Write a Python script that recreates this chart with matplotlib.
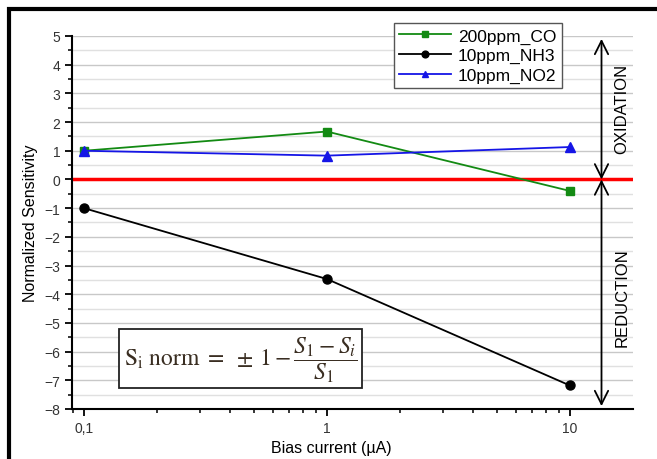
import numpy as np
import matplotlib
matplotlib.use('Agg')
import matplotlib.pyplot as plt
from matplotlib.patches import Rectangle
from matplotlib.ticker import FixedLocator, MultipleLocator, LogLocator, NullFormatter

# data
bias_current = [0.1, 1, 10]
co_200ppm = [1.0, 1.67, -0.4]
nh3_10ppm = [-1.0, -3.47, -7.18]
no2_10ppm = [1.0, 0.83, 1.13]
x_tick_vals = [0.1, 1, 10]
x_tick_labels = ['0,1', '1', '10']

plt.rcParams['font.family'] = ['Liberation Sans', 'DejaVu Sans']
plt.rcParams['mathtext.fontset'] = 'stix'

fig = plt.figure(figsize=(6.57, 4.6), dpi=100)
ax = fig.add_axes([0.1096, 0.1087, 0.8539, 0.8109])

# frame round the figure (only top and left show in the original)
fig.patches.append(Rectangle((9/657, -0.1), 1.2, 1 - 10/460 + 0.1, transform=fig.transFigure,
                             fill=False, edgecolor='black', linewidth=3, zorder=10))

ax.set_xscale('log')
ax.set_xlim(0.0893, 18.2)
ax.set_ylim(-8, 5)

# grid at every half unit
ax.yaxis.set_major_locator(MultipleLocator(1))
ax.yaxis.set_minor_locator(MultipleLocator(0.5))
ax.grid(True, which='major', axis='y', color='#c8c8c8', linewidth=1.0)
ax.grid(True, which='minor', axis='y', color='#e0e0e0', linewidth=1.0)
ax.set_axisbelow(True)

ax.axhline(0, color='#ff0000', linewidth=2.5, zorder=2)

ax.plot(bias_current, co_200ppm, color='#138a13', marker='s', markersize=5.5, linewidth=1.3,
        label='200ppm_CO', zorder=3)
ax.plot(bias_current, nh3_10ppm, color='black', marker='o', markersize=6.5, linewidth=1.3,
        label='10ppm_NH3', zorder=3)
ax.plot(bias_current, no2_10ppm, color='#1515e6', marker='^', markersize=6.5, linewidth=1.3,
        label='10ppm_NO2', zorder=3)

ax.xaxis.set_major_locator(FixedLocator(x_tick_vals))
ax.set_xticklabels(x_tick_labels)
ax.xaxis.set_minor_locator(LogLocator(base=10, subs=np.arange(2, 10)))
ax.xaxis.set_minor_formatter(NullFormatter())

for side in ['top', 'right']:
    ax.spines[side].set_visible(False)
for side in ['left', 'bottom']:
    ax.spines[side].set_linewidth(1.5)

ax.tick_params(which='major', direction='out', length=5, width=1.3, labelsize=10, labelcolor='#333333')
ax.tick_params(which='minor', direction='out', length=3, width=1.1)

ax.set_ylabel('Normalized Sensitivity', fontsize=11.5)
ax.set_xlabel('Bias current (µA)', fontsize=11.5)
ax.xaxis.set_label_coords(0.462, -0.082)
ax.yaxis.set_label_coords(-0.06, 0.5)

leg = ax.legend(loc='upper right', bbox_to_anchor=(0.888, 1.058), fontsize=12.5,
                frameon=True, fancybox=False, edgecolor='#555555', framealpha=1,
                handlelength=3.0, borderpad=0.3, labelspacing=0.25, handletextpad=0.4,
                markerscale=0.75)
leg.get_frame().set_linewidth(1.0)

# oxidation / reduction arrows
arrow_x = 13.5
ax.annotate('', xy=(arrow_x, 4.9), xytext=(arrow_x, 0.0),
            arrowprops=dict(arrowstyle='<->', color='black', lw=1.3, mutation_scale=24,
                            shrinkA=0, shrinkB=0), annotation_clip=False)
ax.annotate('', xy=(arrow_x, 0.0), xytext=(arrow_x, -7.9),
            arrowprops=dict(arrowstyle='<->', color='black', lw=1.3, mutation_scale=24,
                            shrinkA=0, shrinkB=0), annotation_clip=False)
ax.text(16.4, 2.5, 'OXIDATION', rotation=90, ha='center', va='center', fontsize=12)
ax.text(16.4, -4.1, 'REDUCTION', rotation=90, ha='center', va='center', fontsize=12)

# formula box
ax.text(0.301, 0.135, r'$\mathrm{S_i\ norm}\ =\ \pm\,1-\dfrac{S_1-S_i}{S_1}$',
        transform=ax.transAxes, ha='center', va='center', fontsize=17, color='#3a2e22',
        bbox=dict(boxstyle='square,pad=0.2', facecolor='white', edgecolor='#222222', linewidth=1.3),
        zorder=5)

fig.savefig('out.png', dpi=100)
